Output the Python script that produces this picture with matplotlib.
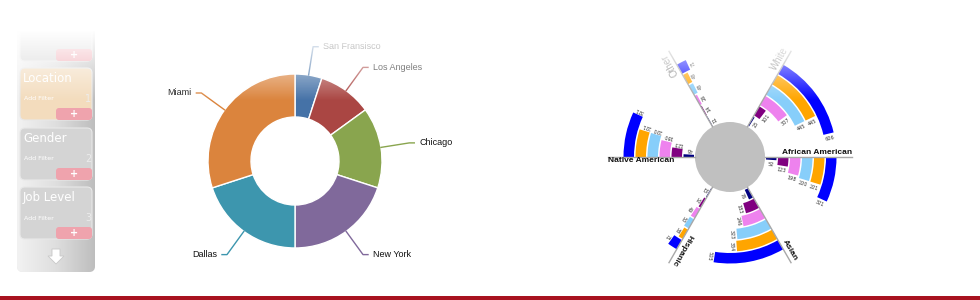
import numpy as np
import matplotlib
matplotlib.use("Agg")
import matplotlib.pyplot as plt
from matplotlib.patches import FancyBboxPatch, Rectangle, Polygon

# ---- donut data ----
cities = ['San Fransisco', 'Los Angeles', 'Chicago', 'New York', 'Dallas', 'Miami']
city_share = [5, 10, 15, 20, 20, 30]
city_colors = ['#4572A7', '#AA4643', '#89A54E', '#80699B', '#3D96AE', '#DB843D']

# ---- radial ring chart data ----
groups = ['White', 'African American', 'Asian', 'Hispanic', 'Native American', 'Other']
group_angle = [60, 0, -60, -120, 180, 120]
white_vals = [25, 101, 307, 445, 445, 606]
african_vals = [52, 123, 198, 220, 221, 321]
asian_vals = [76, 183, 246, 323, 334, 505]
hispanic_vals = [15, 32, 49, 50, 38, 71]
native_vals = [45, 123, 180, 220, 221, 321]
other_vals = [11, 14, 26, 43, 43, 71]
group_vals = [white_vals, african_vals, asian_vals, hispanic_vals, native_vals, other_vals]
ring_colors = ['#000080', '#800080', '#EE82EE', '#87CEFA', '#FFA500', '#0000FF']

# sidebar
filters = ['', 'Location', 'Gender', 'Job Level']
filter_nums = ['', '1', '2', '3']

W, H = 980, 300
fig = plt.figure(figsize=(W / 100, H / 100), dpi=100)
fig.patch.set_facecolor('white')

# background axes in pixel units
bg = fig.add_axes([0, 0, 1, 1])
bg.set_xlim(0, W)
bg.set_ylim(H, 0)
bg.axis('off')

panel = FancyBboxPatch((17, -12), 78, 284, boxstyle='round,pad=0,rounding_size=6',
                       fc='#e2e2e2', ec='none')
bg.add_patch(panel)
grad = np.linspace(0, 1, 100).reshape(1, -1)
im = bg.imshow(grad, extent=(17, 95, 272, -12), cmap=matplotlib.colors.LinearSegmentedColormap.from_list(
    'side', ['#f2f2f2', '#dedede', '#bdbdbd']), aspect='auto', zorder=1)
im.set_clip_path(panel)

card_tops = [-10, 68, 128, 187]
card_fc = ['#d4d4d4', '#f3dcbd', '#d4d4d4', '#d4d4d4']
for top, fc, name, num in zip(card_tops, card_fc, filters, filter_nums):
    h = 52 if top > 0 else 71
    bg.add_patch(FancyBboxPatch((20, top), 72, h, boxstyle='round,pad=0,rounding_size=5',
                                fc=fc, ec='#e8e8e8', lw=0.8, zorder=2))
    bg.add_patch(FancyBboxPatch((56, top + h - 12), 36, 12, boxstyle='round,pad=0,rounding_size=3',
                                fc='#efa3ad', ec='none', zorder=3))
    bg.text(74, top + h - 6, '+', color='white', fontsize=7, fontweight='bold',
            ha='center', va='center', zorder=4)
    if name:
        bg.text(23, top + 11, name, color='white', fontsize=8.5, ha='left', va='center', zorder=4)
        bg.text(24, top + 31, 'Add Filter', color='white', fontsize=4.5, ha='left', va='center', zorder=4)
        bg.text(88, top + 31, num, color='#ececec', fontsize=7, ha='center', va='center', zorder=4)
bg.add_patch(Polygon([[52, 249], [60, 249], [60, 256], [64, 256], [56, 264], [48, 256], [52, 256]],
                     closed=True, fc='white', ec='#c8c8c8', lw=0.6, zorder=3))

bg.add_patch(Rectangle((0, 296), W, 4, fc='#A8121F', ec='none'))

# ---- donut ----
cx, cy, R = 295, 161, 87
half = 130
pie_ax = fig.add_axes([(cx - half) / W, (H - cy - half) / H, 2 * half / W, 2 * half / H])
wedges, _ = pie_ax.pie(city_share, colors=city_colors, startangle=90, counterclock=False,
                       radius=1, wedgeprops=dict(width=43 / R, edgecolor='white', linewidth=1))
lim = half / R
pie_ax.set_xlim(-lim, lim)
pie_ax.set_ylim(-lim, lim)
pie_ax.axis('off')
for wdg, name, col in zip(wedges, cities, city_colors):
    mid = np.deg2rad((wdg.theta1 + wdg.theta2) / 2)
    ux, uy = np.cos(mid), np.sin(mid)
    side = 1 if ux >= 0 else -1
    p1 = (1.33 * ux, 1.33 * uy)
    pie_ax.plot([ux, p1[0], p1[0] + side * 5 / R], [uy, p1[1], p1[1]], color=col, lw=1)
    pie_ax.text(p1[0] + side * 10 / R, p1[1], name, ha='left' if side > 0 else 'right',
                va='center', fontsize=6.5, family='Liberation Sans', color='#111111')

# ---- radial ring chart ----
pcx, pcy, pr = 730, 157, 140
pax = fig.add_axes([(pcx - pr) / W, (H - pcy - pr) / H, 2 * pr / W, 2 * pr / H], projection='polar')
pax.set_ylim(0, pr)
pax.axis('off')

deg_per_unit = 0.077
ring_bottom = [36 + 12 * i for i in range(6)]
ring_h = 10.5

pax.bar(0, 35, width=2 * np.pi, bottom=0, color='#C0C0C0', align='edge', linewidth=0)

for name, ang, vals in zip(groups, group_angle, group_vals):
    a = np.deg2rad(ang)
    pax.plot([a, a], [35, 122], color='#a8a8a8', lw=1)
    for i, v in enumerate(vals):
        w = np.deg2rad(v * deg_per_unit)
        pax.bar(a - w, ring_h, width=w, bottom=ring_bottom[i], align='edge',
                color=ring_colors[i], linewidth=0)
        rm = ring_bottom[i] + ring_h / 2
        te = a - w
        pax.text(te - 5 / rm, rm, str(v), rotation=np.rad2deg(te), rotation_mode='anchor',
                 ha='center', va='center', fontsize=3.6, color='#333333')
    bold = name not in ('White', 'Other')
    col = '#111111' if bold else '#888888'
    wt = 'bold' if bold else 'normal'
    if name == 'Native American':
        pax.text(a, 122, name, rotation=0, rotation_mode='anchor', ha='left', va='top',
                 fontsize=6, fontweight=wt, family='Liberation Sans', color=col)
    else:
        pax.text(a + 1.5 / 122, 122, name, rotation=ang, rotation_mode='anchor', ha='right',
                 va='bottom', fontsize=6 if bold else 7, fontweight=wt,
                 family='Liberation Sans', color=col)

# white fade at the top of the picture
ov = fig.add_axes([0, 0, 1, 1], zorder=10)
ys = np.arange(H)
alpha = np.clip((100 - ys) / 70.0, 0, 1)
fade = np.ones((H, 1, 4))
fade[:, 0, 3] = alpha
ov.imshow(fade, extent=(0, W, H, 0), aspect='auto')
ov.set_xlim(0, W)
ov.set_ylim(H, 0)
ov.axis('off')

fig.savefig('out.png', dpi=100)
